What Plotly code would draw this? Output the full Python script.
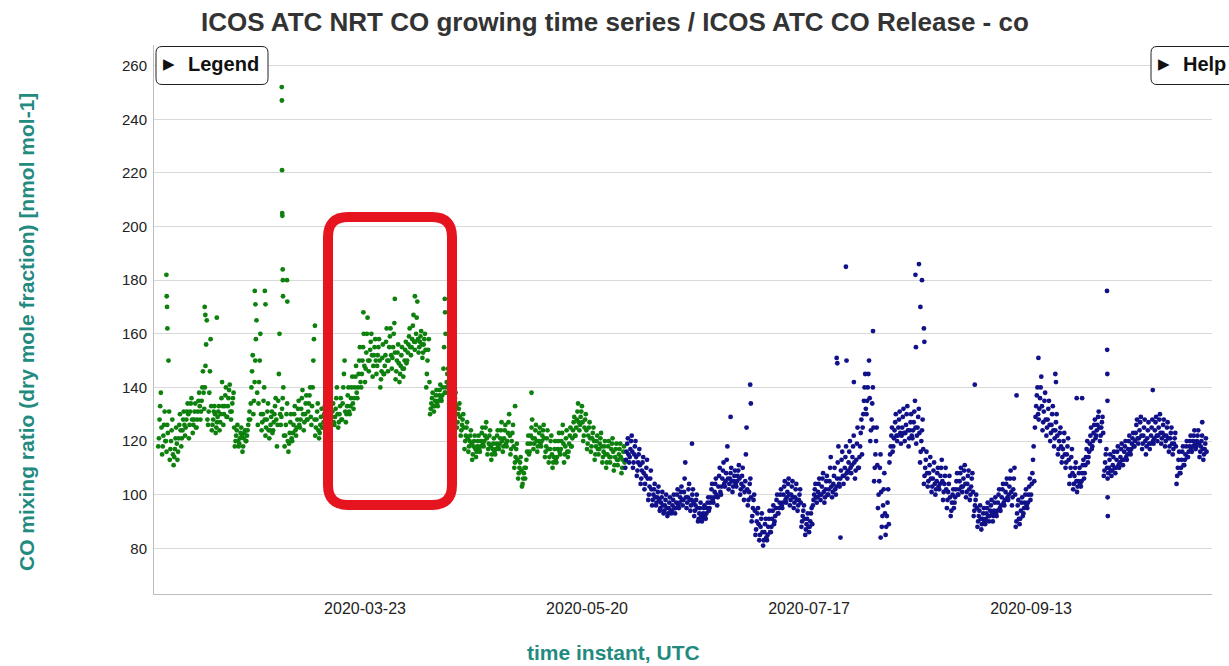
import pandas as pd
import plotly.graph_objects as go

TITLE = "ICOS ATC NRT CO growing time series / ICOS ATC CO Release - co"
Y_TITLE = "CO mixing ratio (dry mole fraction) [nmol mol-1]"
X_TITLE = "time instant, UTC"

# ---------------------------------------------------------------------------
# CO mole fraction [nmol mol-1]; two interleaved reading sets per series:
#   set A at 00, 08, 16 UTC and set B at 04, 12, 20 UTC, one triplet per day
# ---------------------------------------------------------------------------
release_start_a = "2020-01-29 00:00"
release_co_a = [
    118, 128, 138, 115, 122, 131, 120, 126, 150, 113, 120, 128, 111, 117, 125,
    113, 121, 130, 118, 124, 131, 122, 128, 134, 121, 131, 136, 123, 128, 134,
    125, 131, 138, 128, 135, 146, 132, 148, 165, 126, 138, 158, 124, 128, 133,
    123, 127, 131, 124, 130, 142, 126, 133, 140, 129, 136, 141, 128, 134, 138,
    118, 122, 126, 118, 121, 125, 116, 121, 124, 120, 124, 128, 128, 140, 152,
    135, 150, 165, 126, 142, 160, 124, 130, 140, 122, 128, 134, 121, 126, 131,
    124, 130, 136, 118, 135, 160, 126, 132, 140, 118, 126, 134, 116, 123, 130,
    120, 126, 133, 122, 128, 135, 125, 132, 139, 124, 130, 137, 128, 134, 140,
    126, 140, 158, 122, 128, 134, 121, 126, 132, 125, 130, 136, 126, 131, 135,
    124, 129, 134, 126, 132, 140, 125, 130, 136, 128, 140, 150, 127, 133, 140,
    130, 136, 144, 132, 140, 148, 136, 145, 155, 140, 150, 160, 142, 153, 166,
    146, 154, 160, 144, 152, 158, 145, 152, 158, 140, 146, 156, 145, 152, 162,
    146, 155, 162, 147, 155, 164, 143, 150, 156, 142, 148, 155, 144, 150, 157,
    150, 156, 162, 152, 158, 167, 154, 160, 172, 153, 157, 161, 151, 156, 160,
    140, 150, 158, 130, 134, 138, 131, 135, 139, 133, 137, 141, 135, 140, 155,
    138, 142, 147, 134, 138, 142, 130, 134, 138, 125, 130, 134, 122, 126, 130,
    117, 122, 127, 116, 120, 124, 113, 118, 122, 114, 118, 122, 116, 120, 125,
    118, 122, 127, 115, 119, 124, 113, 117, 121, 115, 119, 124, 117, 121, 127,
    116, 121, 126, 118, 123, 130, 115, 120, 126, 110, 114, 119, 106, 110, 114,
    103, 106, 110, 110, 116, 122, 116, 122, 128, 117, 121, 126, 116, 120, 125,
    118, 122, 126, 114, 118, 124, 112, 117, 122, 110, 114, 120, 112, 117, 123,
    115, 120, 126, 112, 118, 124, 114, 119, 125, 118, 124, 129, 122, 128, 134,
    124, 129, 133, 120, 125, 130, 117, 122, 127, 116, 121, 125, 113, 118, 122,
    115, 119, 123, 112, 116, 120, 110, 115, 120, 112, 117, 121, 109, 114, 119,
    111, 115, 119, 108, 113, 118,
]

release_start_b = "2020-01-29 04:00"
release_co_b = [
    121, 133, 125, 118, 126, 120, 116, 123, 131, 117, 124, 115, 114, 121, 119,
    116, 126, 124, 121, 128, 126, 125, 131, 130, 126, 134, 128, 126, 131, 125,
    128, 135, 133, 131, 140, 138, 140, 156, 128, 131, 146, 133, 126, 131, 130,
    125, 129, 133, 127, 136, 133, 130, 137, 129, 133, 139, 131, 131, 136, 125,
    120, 124, 120, 119, 123, 122, 118, 123, 120, 122, 126, 131, 134, 146, 130,
    142, 158, 138, 134, 150, 130, 127, 135, 128, 125, 131, 124, 124, 129, 123,
    127, 133, 128, 126, 145, 130, 129, 136, 122, 122, 130, 120, 119, 127, 121,
    123, 130, 124, 125, 132, 126, 128, 136, 130, 127, 134, 128, 131, 137, 129,
    133, 150, 128, 125, 131, 124, 123, 129, 125, 127, 133, 128, 128, 133, 129,
    126, 131, 127, 129, 136, 130, 127, 133, 128, 134, 145, 131, 130, 137, 131,
    133, 140, 134, 136, 144, 138, 140, 150, 142, 145, 155, 148, 147, 160, 150,
    150, 157, 152, 148, 155, 150, 148, 155, 150, 143, 151, 145, 148, 157, 150,
    150, 159, 152, 151, 160, 153, 146, 153, 149, 145, 152, 147, 147, 154, 149,
    153, 159, 155, 155, 163, 157, 157, 166, 158, 155, 159, 156, 153, 158, 154,
    145, 154, 142, 132, 136, 133, 133, 137, 134, 135, 139, 136, 137, 147, 138,
    140, 145, 141, 136, 140, 137, 132, 136, 133, 127, 132, 129, 124, 128, 125,
    120, 125, 121, 118, 122, 119, 115, 120, 117, 116, 120, 117, 118, 123, 119,
    120, 125, 121, 117, 122, 118, 115, 119, 116, 117, 122, 118, 119, 124, 120,
    118, 124, 119, 120, 127, 122, 117, 123, 118, 112, 117, 113, 108, 112, 109,
    104, 108, 106, 113, 119, 115, 119, 125, 121, 119, 124, 120, 118, 123, 119,
    120, 124, 121, 116, 121, 117, 114, 120, 115, 112, 117, 113, 114, 120, 116,
    117, 123, 119, 115, 121, 116, 116, 122, 118, 121, 127, 122, 125, 131, 127,
    126, 131, 127, 122, 128, 124, 119, 125, 121, 118, 123, 120, 115, 120, 117,
    117, 121, 118, 114, 118, 115, 112, 118, 114, 114, 119, 116, 111, 117, 113,
    113, 117, 114, 110, 116, 112,
]

nrt_start_a = "2020-05-30 00:00"
nrt_co_a = [
    110, 116, 121, 112, 117, 122, 110, 115, 120, 107, 112, 117, 104, 109, 114,
    102, 107, 113, 98, 103, 109, 96, 100, 104, 96, 99, 103, 94, 97, 101,
    93, 96, 100, 92, 95, 99, 93, 96, 100, 93, 97, 102, 95, 99, 103,
    96, 101, 112, 95, 99, 104, 94, 98, 102, 92, 96, 100, 90, 93, 97,
    90, 93, 96, 91, 95, 99, 95, 99, 104, 97, 101, 106, 96, 103, 110,
    100, 106, 112, 103, 108, 118, 102, 106, 110, 101, 105, 109, 103, 107, 111,
    100, 104, 110, 98, 105, 125, 96, 101, 106, 90, 95, 100, 85, 90, 95,
    83, 88, 93, 81, 86, 91, 83, 88, 94, 86, 91, 96, 90, 95, 100,
    93, 97, 102, 95, 100, 105, 97, 101, 106, 96, 100, 105, 95, 99, 104,
    94, 98, 102, 88, 92, 96, 85, 89, 93, 86, 90, 95, 96, 100, 104,
    97, 101, 106, 98, 103, 108, 97, 102, 107, 100, 105, 114, 99, 104, 110,
    100, 106, 118, 103, 109, 116, 104, 110, 118, 106, 112, 120, 108, 114, 122,
    106, 113, 125, 110, 118, 128, 125, 135, 145, 130, 140, 150, 120, 128, 140,
    105, 115, 125, 95, 105, 115, 88, 96, 108, 85, 92, 102, 112, 118, 125,
    118, 124, 130, 120, 125, 131, 119, 125, 132, 120, 126, 133, 118, 124, 130,
    121, 127, 135, 119, 125, 132, 112, 120, 128, 104, 110, 116, 103, 108, 114,
    101, 106, 112, 100, 105, 110, 102, 107, 113, 98, 104, 110, 95, 101, 107,
    92, 97, 102, 97, 102, 108, 100, 105, 110, 101, 106, 111, 99, 104, 109,
    98, 103, 108, 92, 96, 100, 88, 92, 96, 87, 91, 95, 89, 93, 97,
    90, 94, 98, 90, 94, 99, 92, 97, 102, 94, 99, 104, 96, 101, 106,
    98, 103, 109, 96, 102, 110, 88, 93, 98, 89, 94, 99, 93, 97, 102,
    95, 100, 106, 100, 108, 118, 125, 133, 140, 128, 136, 144, 124, 131, 138,
    122, 128, 135, 120, 126, 133, 118, 124, 130, 115, 120, 125, 112, 117, 123,
    110, 115, 121, 104, 110, 117, 102, 107, 112, 101, 105, 110, 103, 108, 113,
    108, 114, 120, 114, 119, 125, 118, 123, 128, 122, 126, 131, 120, 125, 129,
    107, 112, 117, 106, 110, 115, 107, 111, 116, 108, 113, 118, 110, 114, 119,
    111, 116, 120, 113, 117, 122, 115, 119, 123, 118, 123, 128, 119, 124, 129,
    117, 122, 128, 115, 121, 127, 117, 122, 128, 119, 124, 129, 120, 125, 130,
    119, 123, 128, 118, 122, 127, 116, 121, 125, 115, 119, 123, 104, 110, 116,
    108, 113, 118, 111, 115, 120, 114, 118, 122, 116, 120, 124, 117, 120, 124,
    114, 118, 122, 113, 117, 121,
]

nrt_start_b = "2020-05-30 04:00"
nrt_co_b = [
    113, 119, 115, 114, 120, 116, 112, 118, 114, 109, 115, 111, 106, 112, 108,
    104, 110, 106, 100, 106, 102, 98, 102, 99, 97, 101, 98, 95, 99, 96,
    94, 98, 95, 93, 97, 94, 94, 98, 95, 95, 100, 96, 97, 101, 98,
    98, 106, 99, 97, 102, 98, 96, 100, 97, 94, 98, 95, 91, 95, 92,
    91, 95, 92, 93, 97, 94, 97, 102, 98, 99, 104, 100, 99, 107, 101,
    103, 109, 104, 105, 113, 106, 104, 108, 105, 103, 107, 104, 105, 109, 106,
    102, 107, 103, 101, 115, 102, 98, 104, 99, 92, 98, 94, 87, 93, 89,
    85, 91, 86, 83, 89, 84, 85, 91, 86, 88, 94, 89, 92, 98, 93,
    95, 100, 96, 97, 103, 98, 99, 104, 100, 98, 103, 99, 97, 102, 98,
    96, 100, 97, 90, 94, 91, 87, 91, 88, 88, 93, 89, 98, 102, 99,
    99, 104, 100, 100, 106, 101, 99, 105, 100, 102, 110, 103, 101, 107, 102,
    103, 112, 104, 106, 113, 107, 107, 114, 108, 109, 116, 110, 111, 118, 112,
    109, 119, 110, 114, 123, 115, 130, 140, 132, 135, 145, 136, 124, 134, 125,
    110, 120, 111, 100, 110, 101, 92, 102, 93, 88, 97, 89, 115, 122, 116,
    121, 127, 122, 122, 128, 123, 122, 129, 123, 123, 130, 124, 121, 127, 122,
    124, 131, 125, 122, 129, 123, 116, 124, 117, 107, 113, 108, 105, 111, 106,
    103, 109, 104, 102, 108, 103, 104, 110, 105, 101, 107, 102, 98, 104, 99,
    94, 100, 95, 99, 105, 100, 102, 108, 103, 103, 109, 104, 101, 107, 102,
    100, 106, 101, 94, 98, 95, 90, 94, 91, 89, 93, 90, 91, 95, 92,
    92, 96, 93, 92, 97, 93, 94, 100, 95, 96, 102, 97, 98, 104, 99,
    100, 106, 101, 99, 106, 100, 90, 96, 91, 91, 97, 92, 95, 100, 96,
    97, 103, 98, 104, 113, 105, 129, 137, 130, 132, 140, 133, 127, 135, 128,
    125, 132, 126, 123, 130, 124, 121, 127, 122, 117, 123, 118, 114, 120, 115,
    112, 118, 113, 107, 114, 108, 104, 110, 105, 103, 108, 104, 105, 111, 106,
    111, 117, 112, 116, 122, 117, 120, 126, 121, 124, 129, 125, 122, 127, 123,
    109, 115, 110, 108, 113, 109, 109, 114, 110, 110, 116, 111, 112, 117, 113,
    113, 118, 114, 115, 120, 116, 117, 121, 118, 120, 126, 121, 121, 127, 122,
    119, 125, 120, 118, 124, 119, 119, 125, 120, 121, 127, 122, 122, 128, 123,
    121, 126, 122, 120, 125, 121, 118, 123, 119, 117, 121, 118, 107, 113, 108,
    110, 116, 111, 113, 118, 114, 116, 120, 117, 118, 122, 119, 118, 122, 119,
    116, 120, 117, 115, 119, 116,
]

# Isolated high/low readings (pollution events, outliers)
release_event_times = [
    "2020-01-31 03:00", "2020-01-31 05:00", "2020-01-31 07:00", "2020-01-31 09:00",
    "2020-02-10 03:00", "2020-02-10 07:00", "2020-02-13 07:00",
    "2020-02-23 05:00", "2020-02-23 09:00", "2020-02-25 20:00", "2020-02-26 00:00",
    "2020-03-01 06:00", "2020-03-01 07:00", "2020-03-01 08:00", "2020-03-01 09:00",
    "2020-03-01 10:00", "2020-03-01 12:00", "2020-03-01 13:00", "2020-03-01 14:00",
    "2020-03-02 15:00", "2020-03-02 17:00", "2020-03-09 22:00", "2020-03-22 14:00",
    "2020-03-30 19:00", "2020-04-05 01:00", "2020-04-12 20:00", "2020-04-12 22:00",
    "2020-04-13 01:00", "2020-05-01 05:00", "2020-05-05 12:00",
]
release_event_co = [
    182, 174, 170, 162,
    170, 167, 166,
    176, 171, 176, 171,
    252, 247, 221, 205, 204, 184, 180, 174,
    180, 172, 163, 168,
    173, 174, 173, 168,
    160, 133, 138,
]

nrt_event_times = [
    "2020-06-16 10:00", "2020-06-26 12:00", "2020-07-01 15:00", "2020-07-01 19:00",
    "2020-07-24 05:00", "2020-07-24 09:00", "2020-07-25 05:00", "2020-07-26 15:00",
    "2020-07-26 19:00", "2020-07-28 17:00", "2020-08-02 17:00", "2020-08-04 17:00",
    "2020-08-13 19:00", "2020-08-13 22:00", "2020-08-14 17:00", "2020-08-15 02:00",
    "2020-08-15 12:00", "2020-08-16 00:00", "2020-08-16 03:00", "2020-08-29 07:00",
    "2020-09-09 05:00", "2020-09-14 22:00", "2020-09-19 08:00", "2020-09-19 12:00",
    "2020-09-24 22:00", "2020-09-26 08:00", "2020-10-02 20:00", "2020-10-02 21:00",
    "2020-10-02 22:00", "2020-10-02 23:00", "2020-10-03 00:00", "2020-10-03 01:00",
    "2020-10-14 19:00", "2020-10-27 17:00",
]
nrt_event_co = [
    119, 129, 141, 134,
    151, 149, 84, 185,
    150, 142, 161, 84,
    182, 155, 186, 170,
    180, 162, 157, 141,
    137, 151, 145, 142,
    136, 136, 176, 154,
    145, 135, 99, 92,
    139, 127,
]

x_tick_dates = ["2020-03-23", "2020-05-20", "2020-07-17", "2020-09-13"]
y_tick_values = [80, 100, 120, 140, 160, 180, 200, 220, 240, 260]


# ---------------------------------------------------------------------------
def stamps(start, values):
    return list(pd.date_range(start, periods=len(values), freq="8h"))


release_x = (stamps(release_start_a, release_co_a) + stamps(release_start_b, release_co_b)
             + list(pd.to_datetime(release_event_times)))
release_y = release_co_a + release_co_b + release_event_co
nrt_x = (stamps(nrt_start_a, nrt_co_a) + stamps(nrt_start_b, nrt_co_b)
         + list(pd.to_datetime(nrt_event_times)))
nrt_y = nrt_co_a + nrt_co_b + nrt_event_co

GREEN = "#0d800d"
NAVY = "#11118a"
TEAL = "#238a80"

fig = go.Figure()
fig.add_trace(go.Scatter(
    x=release_x, y=release_y, mode="markers", name="ICOS ATC CO Release",
    marker=dict(size=4.8, color=GREEN, line=dict(width=0)),
))
fig.add_trace(go.Scatter(
    x=nrt_x, y=nrt_y, mode="markers", name="ICOS ATC NRT CO growing time series",
    marker=dict(size=4.8, color=NAVY, line=dict(width=0)),
))

# plot-area geometry in pixels
W, H = 1229, 666
L, R, T, B = 154, 17, 45, 72
PW, PH = W - L - R, H - T - B


def px(x):
    return (x - L) / PW


def py(y):
    return (T + PH - y) / PH


def rounded_path(x0, y0, x1, y1, r):
    return " ".join([
        f"M{px(x0 + r)},{py(y0)}",
        f"L{px(x1 - r)},{py(y0)}",
        f"Q{px(x1)},{py(y0)} {px(x1)},{py(y0 + r)}",
        f"L{px(x1)},{py(y1 - r)}",
        f"Q{px(x1)},{py(y1)} {px(x1 - r)},{py(y1)}",
        f"L{px(x0 + r)},{py(y1)}",
        f"Q{px(x0)},{py(y1)} {px(x0)},{py(y1 - r)}",
        f"L{px(x0)},{py(y0 + r)}",
        f"Q{px(x0)},{py(y0)} {px(x0 + r)},{py(y0)}",
        "Z",
    ])


shapes = [
    # highlighted period
    dict(type="path", xref="paper", yref="paper", layer="above",
         path=rounded_path(328, 217, 452, 505, 20),
         line=dict(color="#e5141e", width=10), fillcolor="rgba(0,0,0,0)"),
    # "Legend" and "Help" toggles
    dict(type="path", xref="paper", yref="paper", layer="above",
         path=rounded_path(156, 46.5, 268, 84.5, 6),
         line=dict(color="#222222", width=1), fillcolor="white"),
    dict(type="path", xref="paper", yref="paper", layer="above",
         path=rounded_path(1151, 46.5, 1240, 84.5, 6),
         line=dict(color="#222222", width=1), fillcolor="white"),
]

annotations = [
    dict(x=px(168.5), y=py(64), text="▶", font=dict(size=15, color="#111111"),
         showarrow=False, xref="paper", yref="paper", xanchor="center", yanchor="middle"),
    dict(x=px(223), y=py(64), text="<b>Legend</b>",
         font=dict(size=20, color="#111111", family="Liberation Sans, Arial"),
         showarrow=False, xref="paper", yref="paper", xanchor="center", yanchor="middle"),
    dict(x=px(1164), y=py(64), text="▶", font=dict(size=15, color="#111111"),
         showarrow=False, xref="paper", yref="paper", xanchor="center", yanchor="middle"),
    dict(x=px(1204), y=py(64), text="<b>Help</b>",
         font=dict(size=20, color="#111111", family="Liberation Sans, Arial"),
         showarrow=False, xref="paper", yref="paper", xanchor="center", yanchor="middle"),
    dict(x=px(26), y=py(332), text=f"<b>{Y_TITLE}</b>", textangle=-90,
         font=dict(size=21, color=TEAL, family="Liberation Sans, Arial"),
         showarrow=False, xref="paper", yref="paper", xanchor="center", yanchor="middle"),
    dict(x=px(613), y=py(666), text=f"<b>{X_TITLE}</b>",
         font=dict(size=21, color=TEAL, family="Liberation Sans, Arial"),
         showarrow=False, xref="paper", yref="paper", xanchor="center", yanchor="bottom"),
    dict(x=px(615), y=py(22), text=f"<b>{TITLE}</b>",
         font=dict(size=26, color="#333333", family="Liberation Sans, Arial"),
         showarrow=False, xref="paper", yref="paper", xanchor="center", yanchor="middle"),
]

fig.update_layout(
    width=W, height=H,
    margin=dict(l=L, r=R, t=T, b=B, pad=0),
    paper_bgcolor="white", plot_bgcolor="white",
    showlegend=False,
    font=dict(family="Liberation Sans, Arial", color="#333333"),
    shapes=shapes,
    annotations=annotations,
    xaxis=dict(
        type="date",
        range=["2020-01-27 21:10", "2020-10-30 06:15"],
        tickvals=x_tick_dates, ticktext=x_tick_dates,
        showgrid=False, zeroline=False,
        showline=True, linecolor="#bdbdbd", linewidth=1,
        ticks="", tickfont=dict(size=16, color="#222222"),
    ),
    yaxis=dict(
        range=[62.95, 267.7],
        tickvals=y_tick_values,
        showgrid=True, gridcolor="#d9d9d9", gridwidth=1,
        zeroline=False,
        showline=True, linecolor="#bdbdbd", linewidth=1,
        ticks="", tickfont=dict(size=15, color="#222222"),
        ticklabelstandoff=3,
    ),
)

fig.write_html("out.html")
